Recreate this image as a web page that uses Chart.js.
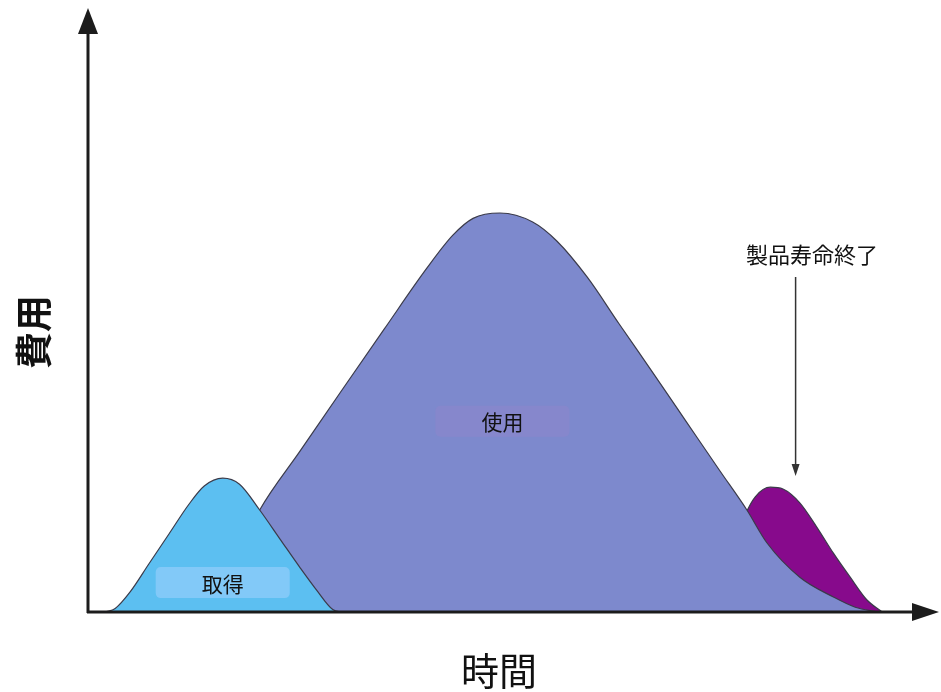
<!DOCTYPE html>
<html lang="ja">
<head>
<meta charset="utf-8">
<title>製品ライフサイクル費用</title>
<script src="https://cdn.jsdelivr.net/npm/chart.js@4/dist/chart.umd.min.js"></script>
<style>
  html, body { margin: 0; padding: 0; background: #fff; }
  #lifecycle { display: block; }
</style>
</head>
<body>
<canvas id="lifecycle" width="941" height="692"></canvas>
<script>
// time (0-100) and cost (0-100) for each phase of the life cycle
const acquisitionTime = [1.8, 3.0, 4.8, 7.0, 9.4, 11.8, 13.6, 15.8, 17.8, 20.2, 22.6, 25.0, 27.0, 28.9, 30.0];
const acquisitionCost = [0, 0.6, 3.4, 8.0, 13.0, 18.0, 21.0, 22.3, 21.3, 17.0, 12.2, 7.4, 3.6, 0.4, 0];

const useTime = [10.1, 13.7, 17.3, 20.2, 25.0, 30.0, 35.0, 40.1, 43.2, 45.6, 48.8, 52.7, 55.6, 59.2, 63.0, 67.0, 71.0, 75.0, 78.2, 80.6, 84.5, 88.5, 91.1, 93.8];
const useCost = [0, 2.8, 8.7, 17.0, 26.8, 37.0, 47.1, 57.3, 62.8, 65.6, 66.5, 65.0, 61.8, 55.8, 48.0, 39.9, 31.7, 23.5, 17.0, 11.5, 5.8, 2.5, 0.8, 0];

const endOfLifeTime = [72.6, 75.6, 78.0, 79.2, 81.0, 82.5, 84.5, 86.5, 88.5, 90.5, 92.5, 94.3];
const endOfLifeCost = [0, 7.0, 16.2, 19.2, 20.8, 20.5, 18.2, 14.2, 9.8, 5.8, 2.0, 0];

const phaseLabels = ["取得", "使用", "製品寿命終了"];
const axisTitles = { x: "時間", y: "費用" };

const toPoints = (xs, ys) => xs.map((x, i) => ({ x, y: ys[i] }));

const area = (label, xs, ys, color, order) => ({
  label,
  data: toPoints(xs, ys),
  backgroundColor: color,
  borderColor: "#3b3b4a",
  borderWidth: 1.2,
  fill: "origin",
  pointRadius: 0,
  cubicInterpolationMode: "monotone",
  order
});

const roundRect = (ctx, x, y, w, h, r) => {
  ctx.beginPath();
  ctx.moveTo(x + r, y);
  ctx.arcTo(x + w, y, x + w, y + h, r);
  ctx.arcTo(x + w, y + h, x, y + h, r);
  ctx.arcTo(x, y + h, x, y, r);
  ctx.arcTo(x, y, x + w, y, r);
  ctx.closePath();
};

// arrows for the axes, boxed phase labels and the end-of-life pointer
const decorations = {
  id: "decorations",
  afterDatasetsDraw(chart) {
    const { ctx, chartArea, scales } = chart;
    const xs = scales.x, ys = scales.y;
    const x0 = chartArea.left - 2, y0 = chartArea.bottom;
    ctx.save();

    // axes
    ctx.strokeStyle = "#1c1c1c";
    ctx.fillStyle = "#1c1c1c";
    ctx.lineWidth = 3;
    ctx.beginPath();
    ctx.moveTo(x0, y0 + 1);
    ctx.lineTo(x0, 30);
    ctx.moveTo(x0 - 1, y0);
    ctx.lineTo(915, y0);
    ctx.stroke();
    ctx.beginPath();
    ctx.moveTo(x0, 8);
    ctx.lineTo(x0 - 10, 34);
    ctx.lineTo(x0 + 10, 34);
    ctx.closePath();
    ctx.fill();
    ctx.beginPath();
    ctx.moveTo(939, y0);
    ctx.lineTo(912, y0 - 9);
    ctx.lineTo(912, y0 + 9);
    ctx.closePath();
    ctx.fill();

    // phase boxes
    ctx.textAlign = "center";
    ctx.textBaseline = "middle";
    ctx.font = '21px "Noto Sans CJK JP"';
    const boxes = [
      { text: phaseLabels[0], x: 15.8, y: 4.9, fill: "#82c9f8" },
      { text: phaseLabels[1], x: 49.1, y: 31.8, fill: "#8687cc" }
    ];
    boxes.forEach((b) => {
      const cx = xs.getPixelForValue(b.x), cy = ys.getPixelForValue(b.y);
      ctx.fillStyle = b.fill;
      roundRect(ctx, cx - 67, cy - 15.5, 134, 31, 5);
      ctx.fill();
      ctx.fillStyle = "#111";
      ctx.fillText(b.text, cx, cy + 1);
    });

    // end-of-life pointer
    const ax = xs.getPixelForValue(84.0);
    ctx.font = '22px "Noto Sans CJK JP"';
    ctx.fillStyle = "#111";
    ctx.fillText(phaseLabels[2], 812, 255);
    ctx.strokeStyle = "#333";
    ctx.lineWidth = 1.5;
    ctx.beginPath();
    ctx.moveTo(ax, 277);
    ctx.lineTo(ax, 466);
    ctx.stroke();
    ctx.fillStyle = "#333";
    ctx.beginPath();
    ctx.moveTo(ax, 476);
    ctx.lineTo(ax - 4, 464);
    ctx.lineTo(ax + 4, 464);
    ctx.closePath();
    ctx.fill();

    // axis titles
    ctx.fillStyle = "#111";
    ctx.font = '38px "Noto Sans CJK JP"';
    ctx.fillText(axisTitles.x, 499, 671);
    ctx.translate(34, 332);
    ctx.rotate(-Math.PI / 2);
    ctx.font = 'bold 37px "Noto Sans CJK JP"';
    ctx.fillText(axisTitles.y, 0, 0);
    ctx.restore();
  }
};

new Chart(document.getElementById("lifecycle"), {
  type: "line",
  data: {
    datasets: [
      area(phaseLabels[0], acquisitionTime, acquisitionCost, "#5cbff1", 1),
      area(phaseLabels[1], useTime, useCost, "#7d89cd", 2),
      area(phaseLabels[2], endOfLifeTime, endOfLifeCost, "#870a8c", 3)
    ]
  },
  options: {
    responsive: false,
    animation: false,
    layout: { padding: { left: 90, right: 11, top: 12, bottom: 80 } },
    scales: {
      x: { type: "linear", min: 0, max: 100, display: false },
      y: { min: 0, max: 100, display: false }
    },
    plugins: {
      legend: { display: false },
      tooltip: { enabled: false }
    }
  },
  plugins: [decorations]
});
</script>
</body>
</html>
